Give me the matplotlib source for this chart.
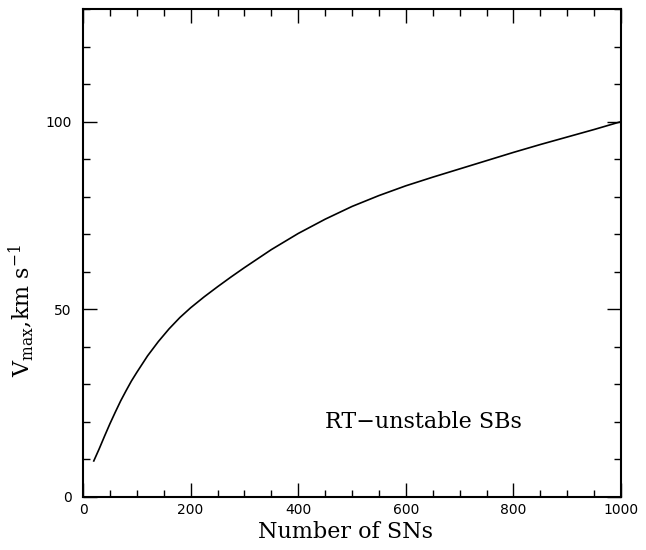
import matplotlib
matplotlib.use("Agg")
import matplotlib.pyplot as plt
from matplotlib.ticker import MultipleLocator

plt.rcParams["mathtext.fontset"] = "dejavuserif"

# number of SNe vs maximum velocity
n_sn = [20, 30, 40, 50, 60, 70, 80, 90, 100, 120, 140, 160, 180, 200,
        225, 250, 275, 300, 350, 400, 450, 500, 550, 600, 650, 700,
        750, 800, 850, 900, 950, 1000]
v_max = [9.6, 12.8, 16.2, 19.5, 22.6, 25.6, 28.3, 30.9, 33.2, 37.6,
         41.4, 44.8, 47.8, 50.4, 53.3, 56.0, 58.6, 61.1, 65.9, 70.2,
         74.0, 77.4, 80.3, 82.9, 85.2, 87.4, 89.6, 91.8, 93.9, 95.9,
         97.9, 100.0]

fig = plt.figure(figsize=(6.46, 5.5), dpi=100)
ax = fig.add_axes([0.1285, 0.0964, 0.8328, 0.8872])

ax.plot(n_sn, v_max, color="black", lw=1.2)

ax.set_xlim(0, 1000)
ax.set_ylim(0, 130)
ax.xaxis.set_major_locator(MultipleLocator(200))
ax.xaxis.set_minor_locator(MultipleLocator(50))
ax.yaxis.set_major_locator(MultipleLocator(50))
ax.yaxis.set_minor_locator(MultipleLocator(10))
ax.tick_params(which="both", direction="in", top=True, right=True,
               width=1.0, labelsize=10)
ax.tick_params(axis="x", pad=4)
ax.tick_params(axis="y", pad=8)
ax.tick_params(which="major", length=10)
ax.tick_params(which="minor", length=5)
for s in ax.spines.values():
    s.set_linewidth(1.5)

ax.set_xlabel("Number of SNs", fontsize=16, family="DejaVu Serif")
ax.xaxis.set_label_coords(0.487, -0.05)
ax.set_ylabel(r"V$_{\rm max}$,km s$^{-1}$", fontsize=16, family="DejaVu Serif")
ax.yaxis.set_label_coords(-0.085, 0.383)

ax.text(450, 20, "RT\u2212unstable SBs", fontsize=16, family="DejaVu Serif",
        va="center", ha="left")

fig.savefig("out.png", dpi=100)
